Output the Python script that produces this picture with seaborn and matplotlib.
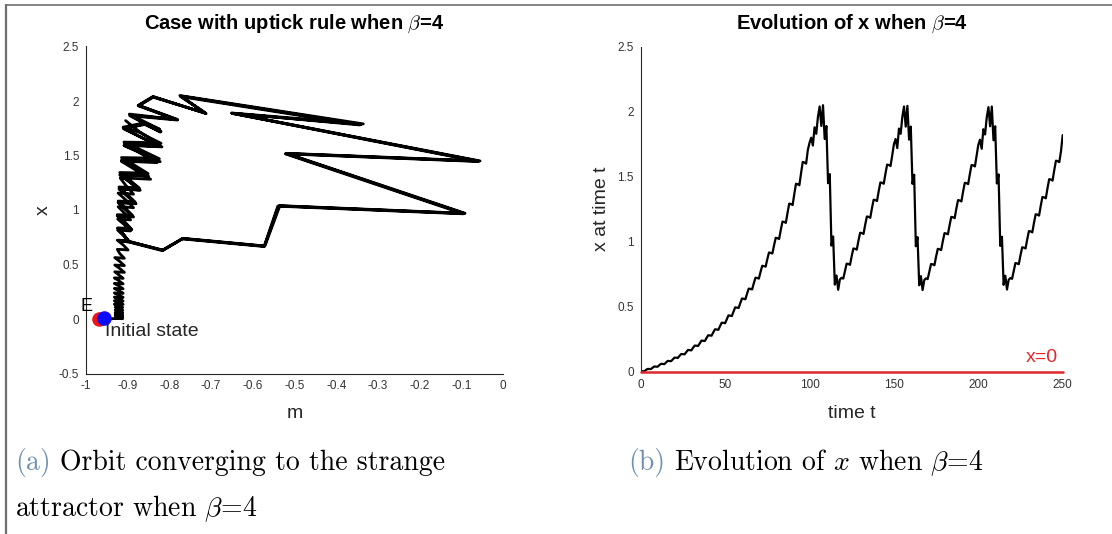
import matplotlib
matplotlib.use('Agg')
import matplotlib.pyplot as plt
import seaborn as sns
from matplotlib.lines import Line2D

# ---------------- data ----------------
time_steps = list(range(0, 251))

x_values = [
    # t 0-19
    0.000, 0.004, 0.003, 0.012, 0.021, 0.021, 0.020, 0.030, 0.040, 0.039,
    0.038, 0.050, 0.060, 0.060, 0.058, 0.071, 0.083, 0.082, 0.081, 0.095,
    # t 20-39
    0.108, 0.108, 0.106, 0.122, 0.136, 0.135, 0.134, 0.151, 0.167, 0.166,
    0.164, 0.184, 0.201, 0.200, 0.198, 0.219, 0.239, 0.238, 0.236, 0.259,
    # t 40-59
    0.280, 0.279, 0.277, 0.303, 0.326, 0.325, 0.322, 0.351, 0.377, 0.376,
    0.373, 0.404, 0.433, 0.431, 0.428, 0.463, 0.495, 0.493, 0.490, 0.528,
    # t 60-79
    0.563, 0.561, 0.557, 0.600, 0.639, 0.637, 0.633, 0.680, 0.723, 0.721,
    0.716, 0.768, 0.815, 0.812, 0.808, 0.865, 0.917, 0.914, 0.909, 0.972,
    # t 80-99
    1.030, 1.027, 1.021, 1.091, 1.155, 1.152, 1.145, 1.223, 1.293, 1.289,
    1.282, 1.367, 1.446, 1.442, 1.434, 1.528, 1.614, 1.609, 1.600, 1.705,
    # t 100-118
    1.760, 1.800, 1.740, 1.880, 1.830, 1.960, 2.040, 1.890, 2.050, 1.790,
    1.890, 1.450, 1.520, 0.970, 1.040, 0.670, 0.740, 0.630, 0.710,
    # t 119-149
    0.722, 0.716, 0.774,
    0.831, 0.829, 0.822, 0.889, 0.948, 0.945, 0.939, 1.008,
    1.069, 1.066, 1.060, 1.131, 1.194, 1.191, 1.184, 1.258,
    1.323, 1.320, 1.313, 1.389, 1.456, 1.453, 1.446, 1.524,
    1.593, 1.590, 1.582, 1.663,
    # t 150-168
    1.750, 1.790, 1.720, 1.870, 1.830, 1.960, 2.040, 1.885, 2.045, 1.785,
    1.885, 1.445, 1.515, 0.965, 1.035, 0.665, 0.735, 0.628, 0.705,
    # t 169-199
    0.718, 0.712, 0.770,
    0.828, 0.826, 0.819, 0.886, 0.945, 0.942, 0.936, 1.005,
    1.066, 1.063, 1.057, 1.128, 1.191, 1.188, 1.181, 1.255,
    1.320, 1.317, 1.310, 1.386, 1.453, 1.450, 1.443, 1.521,
    1.590, 1.587, 1.579, 1.660,
    # t 200-218
    1.745, 1.785, 1.715, 1.865, 1.825, 1.955, 2.035, 1.888, 2.040, 1.780,
    1.888, 1.448, 1.518, 0.968, 1.038, 0.668, 0.738, 0.632, 0.708,
    # t 219-250
    0.720, 0.714, 0.776,
    0.836, 0.833, 0.827, 0.896, 0.957, 0.954, 0.948, 1.019,
    1.082, 1.079, 1.072, 1.146, 1.211, 1.208, 1.201, 1.277,
    1.344, 1.341, 1.334, 1.412, 1.481, 1.478, 1.470, 1.551,
    1.623, 1.620, 1.612, 1.697,
    1.820,
]

m_values = [
    # t 0-23
    -0.955, -0.930, -0.912, -0.921, -0.930, -0.921, -0.912, -0.921,
    -0.930, -0.921, -0.912, -0.921, -0.930, -0.921, -0.912, -0.921,
    -0.930, -0.921, -0.912, -0.921, -0.930, -0.921, -0.912, -0.921,
    # t 24-51
    -0.932, -0.922, -0.911, -0.921, -0.932, -0.922, -0.911, -0.921,
    -0.932, -0.922, -0.911, -0.921, -0.932, -0.922, -0.911, -0.921,
    -0.932, -0.922, -0.911, -0.921, -0.932, -0.922, -0.911, -0.921,
    -0.932, -0.922, -0.911, -0.921,
    # t 52-63
    -0.931, -0.920, -0.908, -0.919, -0.931, -0.920, -0.908, -0.919,
    -0.931, -0.920, -0.908, -0.919,
    # t 64-71
    -0.925, -0.912, -0.899, -0.911, -0.925, -0.912, -0.899, -0.911,
    # t 72-79
    -0.924, -0.909, -0.893, -0.908, -0.924, -0.909, -0.893, -0.908,
    # t 80-87
    -0.923, -0.905, -0.886, -0.904, -0.923, -0.905, -0.886, -0.904,
    # t 88-99
    -0.918, -0.882, -0.845, -0.881, -0.915, -0.872, -0.830, -0.873,
    -0.908, -0.865, -0.823, -0.866,
    # t 100-118
    -0.911, -0.860, -0.823, -0.896, -0.782, -0.875, -0.840, -0.715, -0.775, -0.335,
    -0.651, -0.055, -0.519, -0.091, -0.535, -0.571, -0.767, -0.815, -0.894,
    # t 119-149
    -0.921, -0.898, -0.910,
    -0.924, -0.908, -0.892, -0.908, -0.925, -0.906, -0.888, -0.906,
    -0.923, -0.903, -0.882, -0.902, -0.921, -0.897, -0.873, -0.896,
    -0.919, -0.886, -0.853, -0.885, -0.915, -0.870, -0.825, -0.869,
    -0.909, -0.864, -0.820, -0.866,
    # t 150-168
    -0.909, -0.858, -0.820, -0.894, -0.780, -0.873, -0.838, -0.712, -0.772, -0.340,
    -0.648, -0.060, -0.522, -0.095, -0.540, -0.573, -0.770, -0.818, -0.896,
    # t 169-199
    -0.920, -0.897, -0.909,
    -0.923, -0.907, -0.890, -0.907, -0.924, -0.905, -0.886, -0.905,
    -0.922, -0.901, -0.880, -0.900, -0.920, -0.895, -0.870, -0.894,
    -0.918, -0.884, -0.850, -0.883, -0.914, -0.868, -0.822, -0.867,
    -0.908, -0.862, -0.818, -0.864,
    # t 200-218
    -0.910, -0.859, -0.821, -0.895, -0.781, -0.874, -0.839, -0.713, -0.773, -0.343,
    -0.650, -0.058, -0.520, -0.093, -0.538, -0.572, -0.768, -0.816, -0.895,
    # t 219-250
    -0.921, -0.898, -0.910,
    -0.924, -0.908, -0.892, -0.908, -0.925, -0.906, -0.888, -0.906,
    -0.923, -0.903, -0.882, -0.902, -0.921, -0.896, -0.872, -0.896,
    -0.919, -0.885, -0.851, -0.884, -0.915, -0.869, -0.824, -0.868,
    -0.909, -0.864, -0.820, -0.865,
    -0.905,
]

equilibrium_m, equilibrium_x = [-0.969], [0.0]
initial_m, initial_x = [-0.956], [0.012]
zero_line_t = [0, 250]
zero_line_x = [0, 0]

m_ticks = [-1, -0.9, -0.8, -0.7, -0.6, -0.5, -0.4, -0.3, -0.2, -0.1, 0]
m_tick_labels = ['-1', '-0.9', '-0.8', '-0.7', '-0.6', '-0.5', '-0.4', '-0.3', '-0.2', '-0.1', '0']
x_ticks_left = [-0.5, 0, 0.5, 1, 1.5, 2, 2.5]
x_tick_labels_left = ['-0.5', '0', '0.5', '1', '1.5', '2', '2.5']
t_ticks = [0, 50, 100, 150, 200, 250]
t_tick_labels = ['0', '50', '100', '150', '200', '250']
x_ticks_right = [0, 0.5, 1, 1.5, 2, 2.5]
x_tick_labels_right = ['0', '0.5', '1', '1.5', '2', '2.5']

assert len(x_values) == len(time_steps) == len(m_values)

# ---------------- style ----------------
sns.set_style('white')
plt.rcParams['font.family'] = ['Liberation Sans', 'DejaVu Sans']
plt.rcParams['mathtext.fontset'] = 'cm'
plt.rcParams['axes.unicode_minus'] = False

W, H = 1112, 534
fig = plt.figure(figsize=(W / 100, H / 100), dpi=100)
fig.patch.set_facecolor('white')


def rect(x0, x1, ytop, ybot):
    return [x0 / W, (H - ybot) / H, (x1 - x0) / W, (ybot - ytop) / H]


ax1 = fig.add_axes(rect(86, 503, 46.5, 373.5))
ax2 = fig.add_axes(rect(640.7, 1062.7, 46.7, 371.7))

AX_COL = '#262626'


def style(ax):
    ax.set_facecolor('white')
    for s in ['top', 'right']:
        ax.spines[s].set_visible(False)
    for s in ['left', 'bottom']:
        ax.spines[s].set_color(AX_COL)
        ax.spines[s].set_linewidth(0.8)
    ax.tick_params(direction='in', length=3.5, width=0.8, color=AX_COL,
                   labelcolor='#333333', labelsize=8.5, pad=5)
    ax.grid(False)


# ---------------- left panel ----------------
sns.lineplot(x=m_values, y=x_values, sort=False, estimator=None,
             color='black', lw=2.0, ax=ax1)
sns.scatterplot(x=equilibrium_m, y=equilibrium_x, color='#f01515', s=110,
                linewidth=0, ax=ax1, zorder=5)
sns.scatterplot(x=initial_m, y=initial_x, color='#0a0aff', s=110,
                linewidth=0, ax=ax1, zorder=6)
ax1.set_xlim(-1, 0)
ax1.set_ylim(-0.5, 2.5)
ax1.set_xticks(m_ticks)
ax1.set_xticklabels(m_tick_labels)
ax1.set_yticks(x_ticks_left)
ax1.set_yticklabels(x_tick_labels_left)
style(ax1)
ax1.set_title(r'Case with uptick rule when $\beta$=4', fontsize=14.5,
              fontweight='bold', pad=13, color='black')
ax1.set_xlabel('m', fontsize=14, color=AX_COL)
ax1.set_ylabel('x', fontsize=14, color=AX_COL)
ax1.xaxis.set_label_coords(0.5, (373.5 - 413) / 327)
ax1.xaxis.label.set_va('center')
ax1.yaxis.set_label_coords((43 - 86) / 417, 0.5)
ax1.yaxis.label.set_va('center')
ax1.text(-0.998, 0.115, 'E', fontsize=13, ha='center', va='center', color='black')
ax1.text(-0.9544, -0.115, 'Initial state', fontsize=14, ha='left', va='center',
         color=AX_COL, zorder=7)

# ---------------- right panel ----------------
sns.lineplot(x=time_steps, y=x_values, color='black', lw=1.6, ax=ax2)
sns.lineplot(x=zero_line_t, y=zero_line_x, color='#dd2a2f', lw=1.8, ax=ax2,
             zorder=4, clip_on=False)
ax2.set_xlim(0, 250)
ax2.set_ylim(0, 2.5)
ax2.set_xticks(t_ticks)
ax2.set_xticklabels(t_tick_labels)
ax2.set_yticks(x_ticks_right)
ax2.set_yticklabels(x_tick_labels_right)
style(ax2)
ax2.set_title(r'Evolution of x when $\beta$=4', fontsize=14.5,
              fontweight='bold', pad=13, color='black')
ax2.set_xlabel('time t', fontsize=14, color=AX_COL)
ax2.set_ylabel('x at time t', fontsize=14, color=AX_COL)
ax2.xaxis.set_label_coords(0.5, (371.7 - 413) / 325)
ax2.xaxis.label.set_va('center')
ax2.yaxis.set_label_coords((602 - 640.7) / 422, 0.5)
ax2.yaxis.label.set_va('center')
ax2.text(247, 0.11, 'x=0', color='#e3262c', fontsize=14, ha='right', va='center')

# ---------------- page frame ----------------
fig.add_artist(Line2D([6 / W, 1], [1 - 5 / H, 1 - 5 / H], color='#6e6e6e',
                      lw=1.2, transform=fig.transFigure))
fig.add_artist(Line2D([6 / W, 6 / W], [0, 1 - 5 / H], color='#6e6e6e',
                      lw=1.6, transform=fig.transFigure))

# ---------------- captions ----------------
renderer = fig.canvas.get_renderer()
CAP_FS = 20
LBL_COL = '#7092b0'
space_px = 0.333 * CAP_FS * 100 / 72


def caption(x_px, base_px, label, body):
    y = (H - base_px) / H
    t = fig.text(x_px / W, y, label, fontsize=CAP_FS, family='cmr10',
                 color=LBL_COL, va='baseline', ha='left')
    bb = t.get_window_extent(renderer)
    fig.text((bb.x1 + space_px) / W, y, body, fontsize=CAP_FS, family='cmr10',
             color='black', va='baseline', ha='left')


caption(15, 470, '(a)', 'Orbit converging to the strange')
fig.text(15 / W, (H - 516) / H, r'attractor when $\beta$=4', fontsize=CAP_FS,
         family='cmr10', color='black', va='baseline', ha='left')
caption(628, 470, '(b)', r'Evolution of $x$ when $\beta$=4')

fig.savefig('out.png', dpi=100, facecolor='white')
